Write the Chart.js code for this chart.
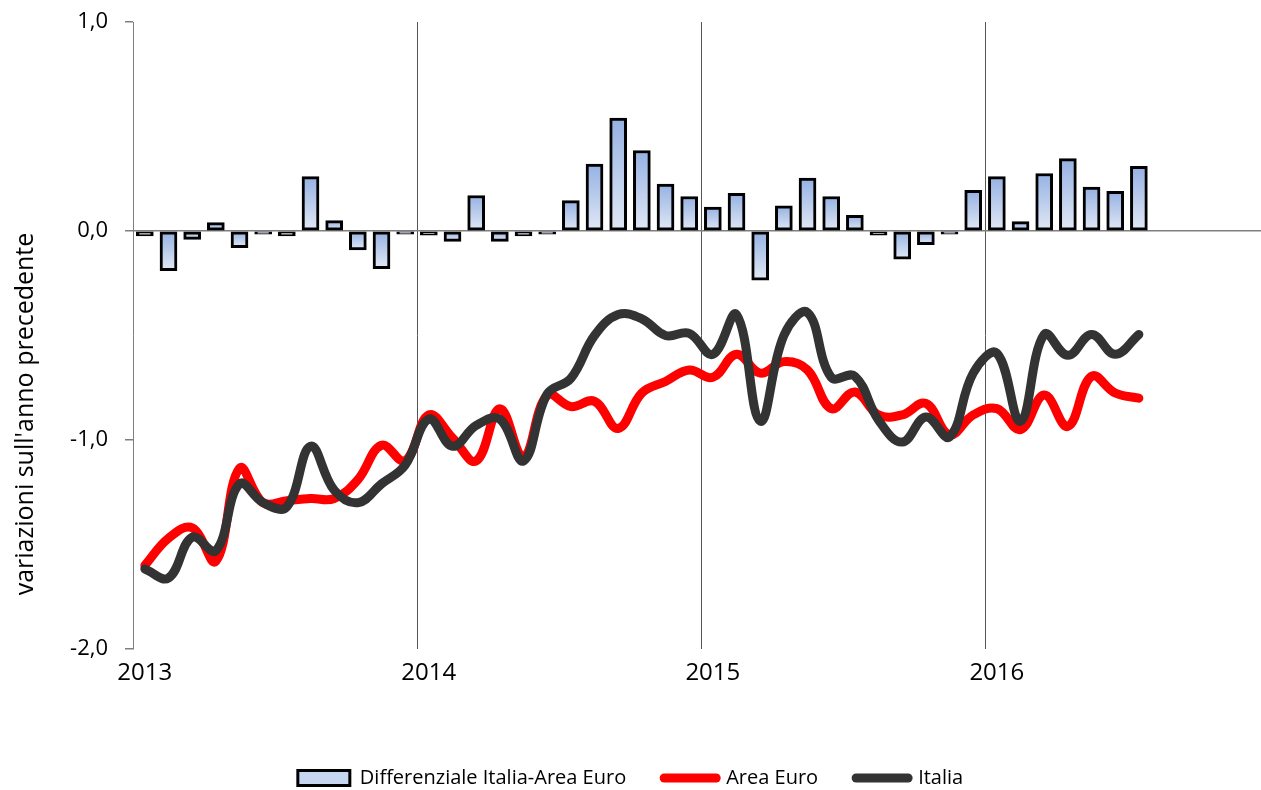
<!DOCTYPE html>
<html>
<head>
<meta charset="utf-8">
<title>Differenziale Italia-Area Euro</title>
<script src="https://cdn.jsdelivr.net/npm/chart.js"></script>
<style>
  html, body { margin: 0; padding: 0; background: #fff; }
  #wrap { width: 1261px; height: 790px; }
</style>
</head>
<body>
<div id="wrap"><canvas id="myChart" width="1261" height="790"></canvas></div>
<script>
// etichette degli anni (una ogni 12 mesi)
const yearLabels = ['2013', '2014', '2015', '2016'];
const monthNames = ['gen', 'feb', 'mar', 'apr', 'mag', 'giu', 'lug', 'ago', 'set', 'ott', 'nov', 'dic'];
// mesi da gennaio 2013 a luglio 2016
const months = [];
yearLabels.forEach(y => monthNames.forEach(m => months.push(m + ' ' + y)));
months.length = 43;

const yTicks = [-2, -1, 0, 1];
const yTitle = "variazioni sull'anno precedente";

// Differenziale Italia-Area Euro (barre)
const differenziale = [
  -0.024, -0.19, -0.04, 0.04, -0.08, -0.015, -0.024, 0.26, 0.05, -0.09, -0.18, -0.015,
  -0.02, -0.05, 0.17, -0.05, -0.024, -0.015, 0.145, 0.32, 0.54, 0.385, 0.225, 0.165,
  0.114, 0.18, -0.235, 0.12, 0.253, 0.165, 0.075, -0.02, -0.135, -0.066, -0.015, 0.194,
  0.26, 0.045, 0.275, 0.346, 0.21, 0.19, 0.31
];
// Area Euro
const areaEuro = [
  -1.60, -1.47, -1.42, -1.58, -1.135, -1.30, -1.29, -1.28, -1.28, -1.19, -1.025, -1.10,
  -0.88, -0.99, -1.10, -0.85, -1.08, -0.785, -0.84, -0.815, -0.945, -0.775, -0.72, -0.665,
  -0.70, -0.59, -0.68, -0.625, -0.665, -0.85, -0.77, -0.88, -0.88, -0.825, -0.975, -0.88,
  -0.85, -0.95, -0.785, -0.935, -0.695, -0.775, -0.80
];
// Italia
const italia = [
  -1.617, -1.66, -1.465, -1.53, -1.21, -1.30, -1.32, -1.03, -1.24, -1.30, -1.21, -1.12,
  -0.90, -1.03, -0.93, -0.90, -1.10, -0.78, -0.705, -0.50, -0.40, -0.42, -0.50, -0.49,
  -0.59, -0.40, -0.91, -0.50, -0.39, -0.70, -0.695, -0.905, -1.01, -0.89, -0.985, -0.68,
  -0.585, -0.91, -0.495, -0.595, -0.495, -0.59, -0.495
];

// ogni mese al centro del suo intervallo sull'asse x
const toPoints = arr => arr.map((v, i) => ({ x: i + 0.5, y: v }));
const fmt = v => v.toFixed(1).replace('.', ',');

// riempimento sfumato dall'alto verso il basso di ogni barra
function barGradient(c) {
  const chart = c.chart;
  if (!chart.chartArea || !c.parsed) return '#c6d6f0';
  const y = chart.scales.y;
  const top = y.getPixelForValue(Math.max(c.parsed.y, 0));
  const bottom = y.getPixelForValue(Math.min(c.parsed.y, 0));
  if (bottom - top < 1) return '#9db7e3';
  const g = chart.ctx.createLinearGradient(0, top, 0, bottom);
  g.addColorStop(0, '#95b1e2');
  g.addColorStop(1, '#e2e9f6');
  return g;
}

// titolo dell'asse y
const yTitlePlugin = {
  id: 'yTitle',
  afterDraw(chart) {
    const ctx = chart.ctx;
    ctx.save();
    ctx.translate(26, 414);
    ctx.rotate(-Math.PI / 2);
    ctx.font = '25px "Open Sans"';
    ctx.fillStyle = '#000';
    ctx.textAlign = 'center';
    ctx.textBaseline = 'middle';
    ctx.fillText(yTitle, 0, 0);
    ctx.restore();
  }
};

const myChart = new Chart(document.getElementById('myChart'), {
  type: 'bar',
  data: {
    datasets: [{
      label: 'Differenziale Italia-Area Euro',
      data: toPoints(differenziale),
      backgroundColor: barGradient,
      borderColor: '#000',
      borderWidth: 3,
      borderSkipped: false,
      barThickness: 17,
      order: 3
    }, {
      type: 'line',
      label: 'Area Euro',
      data: toPoints(areaEuro),
      borderColor: '#ff0000',
      backgroundColor: '#ff0000',
      borderWidth: 9,
      borderCapStyle: 'round',
      pointRadius: 0,
      tension: 0.4,
      order: 2
    }, {
      type: 'line',
      label: 'Italia',
      data: toPoints(italia),
      borderColor: '#333333',
      backgroundColor: '#333333',
      borderWidth: 9,
      borderCapStyle: 'round',
      pointRadius: 0,
      tension: 0.4,
      order: 1
    }]
  },
  options: {
    responsive: false,
    animation: false,
    events: [],
    layout: { padding: { top: 22, right: 0, bottom: -8, left: 0 } },
    scales: {
      x: {
        type: 'linear',
        min: 0,
        max: 47.66,
        offset: false,
        afterBuildTicks: s => { s.ticks = s.ticks.filter(t => t.value % 12 === 0 && t.value < 48); },
        afterFit: s => { s.height = 81; },
        ticks: {
          stepSize: 12,
          autoSkip: false,
          maxRotation: 0,
          labelOffset: 11.8,
          padding: 10,
          color: '#000',
          font: { family: 'Open Sans', size: 24 },
          callback: v => yearLabels[v / 12]
        },
        grid: {
          offset: false,
          drawTicks: false,
          lineWidth: 1,
          color: c => (c.tick && c.tick.value > 0) ? '#555555' : 'rgba(0,0,0,0)'
        },
        border: { display: false }
      },
      y: {
        min: -2,
        max: 1,
        afterBuildTicks: s => { s.ticks = yTicks.map(v => ({ value: v })); },
        afterFit: s => { s.width = 133; s.paddingTop = 0; s.paddingBottom = 0; },
        ticks: {
          padding: 17,
          color: '#000',
          font: { family: 'Open Sans', size: 22 },
          callback: v => fmt(v)
        },
        grid: {
          tickLength: 8,
          tickColor: '#7f7f7f',
          lineWidth: 1.5,
          color: c => (c.tick && c.tick.value === 0) ? '#7f7f7f' : 'rgba(0,0,0,0)'
        },
        border: { display: true, color: '#7f7f7f', width: 1 }
      }
    },
    plugins: {
      tooltip: { enabled: false },
      legend: {
        position: 'bottom',
        labels: {
          usePointStyle: true,
          pointStyleWidth: 52,
          boxHeight: 15,
          padding: 38,
          color: '#000',
          font: { family: 'Open Sans', size: 20 },
          generateLabels: chart => chart.data.datasets.map((ds, i) => {
            const isLine = ds.type === 'line';
            return {
              text: ds.label,
              datasetIndex: i,
              pointStyle: isLine ? 'line' : 'rect',
              fillStyle: isLine ? ds.borderColor : '#c6d6f0',
              strokeStyle: isLine ? ds.borderColor : '#000',
              lineWidth: isLine ? 9 : 3,
              lineCap: 'round',
              fontColor: '#000',
              hidden: false
            };
          })
        }
      }
    }
  },
  plugins: [yTitlePlugin]
});
</script>
</body>
</html>
